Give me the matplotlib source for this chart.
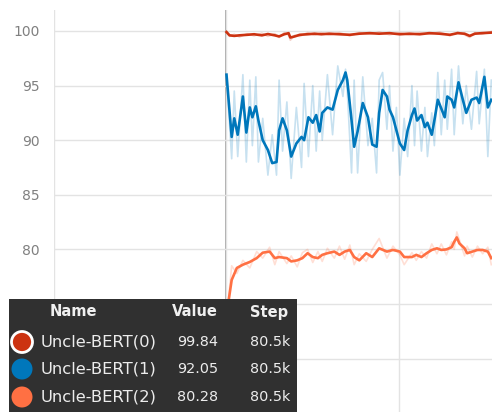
import matplotlib
matplotlib.use("Agg")

import matplotlib.pyplot as plt
from matplotlib.patches import Rectangle, Ellipse

plt.rcParams["font.family"] = ["DejaVu Sans"]

# step values in thousands
blue_steps = [40.0, 40.6, 40.9, 41.3, 41.9, 42.3, 42.7, 43.0, 43.4, 43.7,
              44.2, 44.8, 45.3, 45.8, 46.1, 46.5, 47.0, 47.5, 48.1, 48.7,
              49.0, 49.5, 50.0, 50.4, 50.8, 51.1, 51.7, 52.3, 52.9, 53.5,
              53.8, 54.0, 54.5, 54.8, 55.2, 55.8, 56.4, 56.9, 57.4, 57.7,
              58.1, 58.6, 58.9, 59.3, 59.7, 60.1, 60.6, 61.0, 61.5, 61.8,
              62.1, 62.6, 63.0, 63.3, 63.8, 64.1, 64.5, 64.9, 65.3, 65.6,
              66.1, 66.4, 66.9, 67.4, 67.8, 68.4, 69.0, 69.3, 69.9, 70.3, 70.7]
blue_smooth = [96.0, 90.3, 92.0, 90.5, 94.0, 90.7, 93.0, 92.1, 93.1, 91.8,
               90.0, 89.1, 87.9, 88.0, 90.9, 92.0, 90.9, 88.5, 89.7, 90.3,
               90.0, 92.1, 91.6, 92.3, 90.8, 92.5, 93.0, 92.8, 94.6, 95.5,
               96.2, 95.5, 91.8, 89.4, 90.8, 93.4, 92.1, 89.6, 89.4, 92.5,
               94.6, 94.0, 92.8, 92.1, 90.9, 89.7, 89.1, 90.9, 92.3, 92.9,
               91.8, 92.3, 91.2, 91.6, 90.5, 91.8, 93.7, 92.9, 92.1, 94.0,
               93.7, 93.0, 95.3, 93.7, 92.5, 93.7, 93.9, 93.4, 95.8, 93.0, 93.7]
blue_raw = [96.0, 88.3, 94.5, 88.5, 96.0, 88.0, 95.5, 89.5, 95.8, 88.0,
            92.0, 86.8, 90.5, 86.8, 95.5, 89.0, 93.5, 86.5, 93.0, 87.5,
            95.2, 88.5, 95.0, 89.0, 94.5, 90.0, 96.0, 90.5, 96.8, 94.0,
            96.5, 94.5, 87.0, 95.5, 87.0, 95.8, 89.5, 92.0, 87.0, 95.5,
            96.2, 91.0, 95.0, 89.0, 93.0, 86.8, 92.0, 88.5, 95.0, 89.5,
            94.5, 89.0, 93.0, 88.5, 92.5, 89.5, 96.2, 90.5, 95.5, 91.0,
            96.5, 90.5, 96.8, 91.5, 95.0, 91.0, 96.3, 91.5, 96.5, 88.5, 95.5]

red_steps = [40.0, 40.35, 40.9, 41.5, 42.4, 43.2, 44.1, 44.8, 45.6, 46.1,
             46.7, 47.2, 47.4, 47.9, 48.5, 49.4, 50.2, 51.0, 51.9, 53.1,
             54.3, 55.4, 56.6, 57.7, 58.9, 60.1, 61.2, 62.4, 63.5, 64.7,
             65.9, 66.8, 67.6, 68.2, 68.8, 69.6, 70.7]
red_smooth = [99.9, 99.6, 99.55, 99.6, 99.65, 99.7, 99.6, 99.72, 99.6, 99.5,
              99.7, 99.8, 99.4, 99.5, 99.65, 99.7, 99.75, 99.7, 99.75, 99.7,
              99.65, 99.75, 99.8, 99.75, 99.8, 99.7, 99.75, 99.7, 99.8, 99.75,
              99.65, 99.8, 99.75, 99.55, 99.75, 99.8, 99.85]
red_raw = [100.0, 99.5, 99.7, 99.45, 99.75, 99.55, 99.8, 99.5, 99.75, 99.4,
           99.85, 99.6, 99.15, 99.6, 99.5, 99.85, 99.6, 99.85, 99.6, 99.85,
           99.55, 99.85, 99.7, 99.9, 99.65, 99.85, 99.6, 99.85, 99.7, 99.9,
           99.55, 99.9, 99.65, 99.4, 99.85, 99.7, 99.95]

orange_steps = [40.0, 40.6, 41.2, 41.9, 42.7, 43.5, 44.2, 45.0, 45.6, 46.1,
                47.0, 47.5, 48.2, 48.8, 49.4, 50.0, 50.6, 51.1, 51.7, 52.5,
                53.1, 53.7, 54.3, 54.8, 55.4, 56.2, 56.9, 57.7, 58.6, 59.3,
                60.1, 60.6, 61.5, 62.0, 62.6, 63.2, 63.8, 64.4, 64.9, 65.5,
                66.1, 66.4, 66.7, 67.0, 67.6, 67.9, 68.5, 69.1, 69.7, 70.3, 70.7]
orange_smooth = [74.0, 77.2, 78.3, 78.6, 78.85, 79.2, 79.7, 79.8, 79.2, 79.3,
                 79.2, 78.9, 79.0, 79.2, 79.65, 79.3, 79.2, 79.5, 79.65, 79.8,
                 79.5, 79.8, 79.95, 79.3, 79.0, 79.65, 79.3, 80.1, 79.8, 79.95,
                 79.8, 79.3, 79.3, 79.5, 79.3, 79.65, 79.95, 80.1, 79.95, 80.0,
                 80.2, 80.7, 81.1, 80.55, 80.1, 79.65, 79.8, 79.95, 79.95, 79.8, 79.2]
orange_raw = [73.5, 78.5, 77.8, 79.0, 78.3, 79.8, 79.2, 80.2, 78.6, 79.8,
              78.7, 79.4, 78.4, 79.7, 80.0, 78.8, 79.8, 78.9, 80.1, 79.2,
              80.3, 79.1, 80.4, 78.6, 79.6, 78.9, 80.0, 81.0, 79.2, 80.3,
              79.5, 78.6, 79.7, 79.0, 79.8, 79.2, 80.5, 79.6, 80.5, 79.5,
              80.7, 80.0, 81.6, 80.9, 79.4, 80.3, 79.3, 80.3, 79.6, 80.2, 78.6]

names = ["Uncle-BERT(0)", "Uncle-BERT(1)", "Uncle-BERT(2)"]
last_values = ["99.84", "92.05", "80.28"]
last_steps = ["80.5k", "80.5k", "80.5k"]
colors = ["#cc3311", "#0077bb", "#ff7043"]

yticks = [70, 75, 80, 85, 90, 95, 100]
xticks = [20, 40, 60]

fig = plt.figure(figsize=(4.92, 4.12), dpi=100)
ax = fig.add_axes([54 / 492, -8 / 412, 456 / 492, 410 / 412])

series = [(red_steps, red_smooth, red_raw),
          (blue_steps, blue_smooth, blue_raw),
          (orange_steps, orange_smooth, orange_raw)]
for (xs, sm, raw), c in zip(series, colors):
    ax.plot(xs, raw, color=c, lw=1.2, alpha=0.22, zorder=2)
    ax.plot(xs, sm, color=c, lw=1.9, zorder=3)

ax.set_xlim(20, 72.87)
ax.set_ylim(64.38, 101.92)
ax.set_yticks(yticks)
ax.set_yticklabels([str(t) for t in yticks])
ax.set_xticks(xticks)
ax.set_xticklabels([])
ax.grid(True, color="#e3e3e3", lw=1.0, zorder=0)
ax.axvline(40, color="#a0a0a0", lw=1.3, zorder=1)
ax.axvline(20, color="#d0d0d0", lw=1.3, zorder=1)
for s in ax.spines.values():
    s.set_visible(False)
ax.tick_params(axis="both", length=0, pad=10, labelsize=10, labelcolor="#808080")

# tooltip table
fig.add_artist(Rectangle((9 / 492, -0.05), 288 / 492, (412 - 299) / 412 + 0.05,
                         transform=fig.transFigure, facecolor="#303030",
                         edgecolor="none", zorder=10))


def fy(py):
    return 1 - py / 412


hdr = dict(color="#f0f0f0", fontsize=10.5, fontweight="bold", va="center", zorder=11)
fig.text(73 / 492, fy(312), "Name", ha="center", **hdr)
fig.text(218 / 492, fy(312), "Value", ha="right", **hdr)
fig.text(288 / 492, fy(312), "Step", ha="right", **hdr)

row_y = [342, 369, 397]
for i, (n, v, s, c) in enumerate(zip(names, last_values, last_steps, colors)):
    y = fy(row_y[i])
    ec = "white" if i == 0 else "none"
    fig.add_artist(Ellipse((22, 412 - row_y[i]), 21, 21, transform=None,
                           facecolor=c, edgecolor=ec, lw=2, zorder=11))
    fig.text(41 / 492, y, n, color="#ececec", fontsize=11.8, ha="left", va="center", zorder=11)
    fig.text(218 / 492, y, v, color="#ececec", fontsize=10.4, ha="right", va="center", zorder=11)
    fig.text(290 / 492, y, s, color="#ececec", fontsize=10.4, ha="right", va="center", zorder=11)

fig.savefig("out.png", dpi=100)
